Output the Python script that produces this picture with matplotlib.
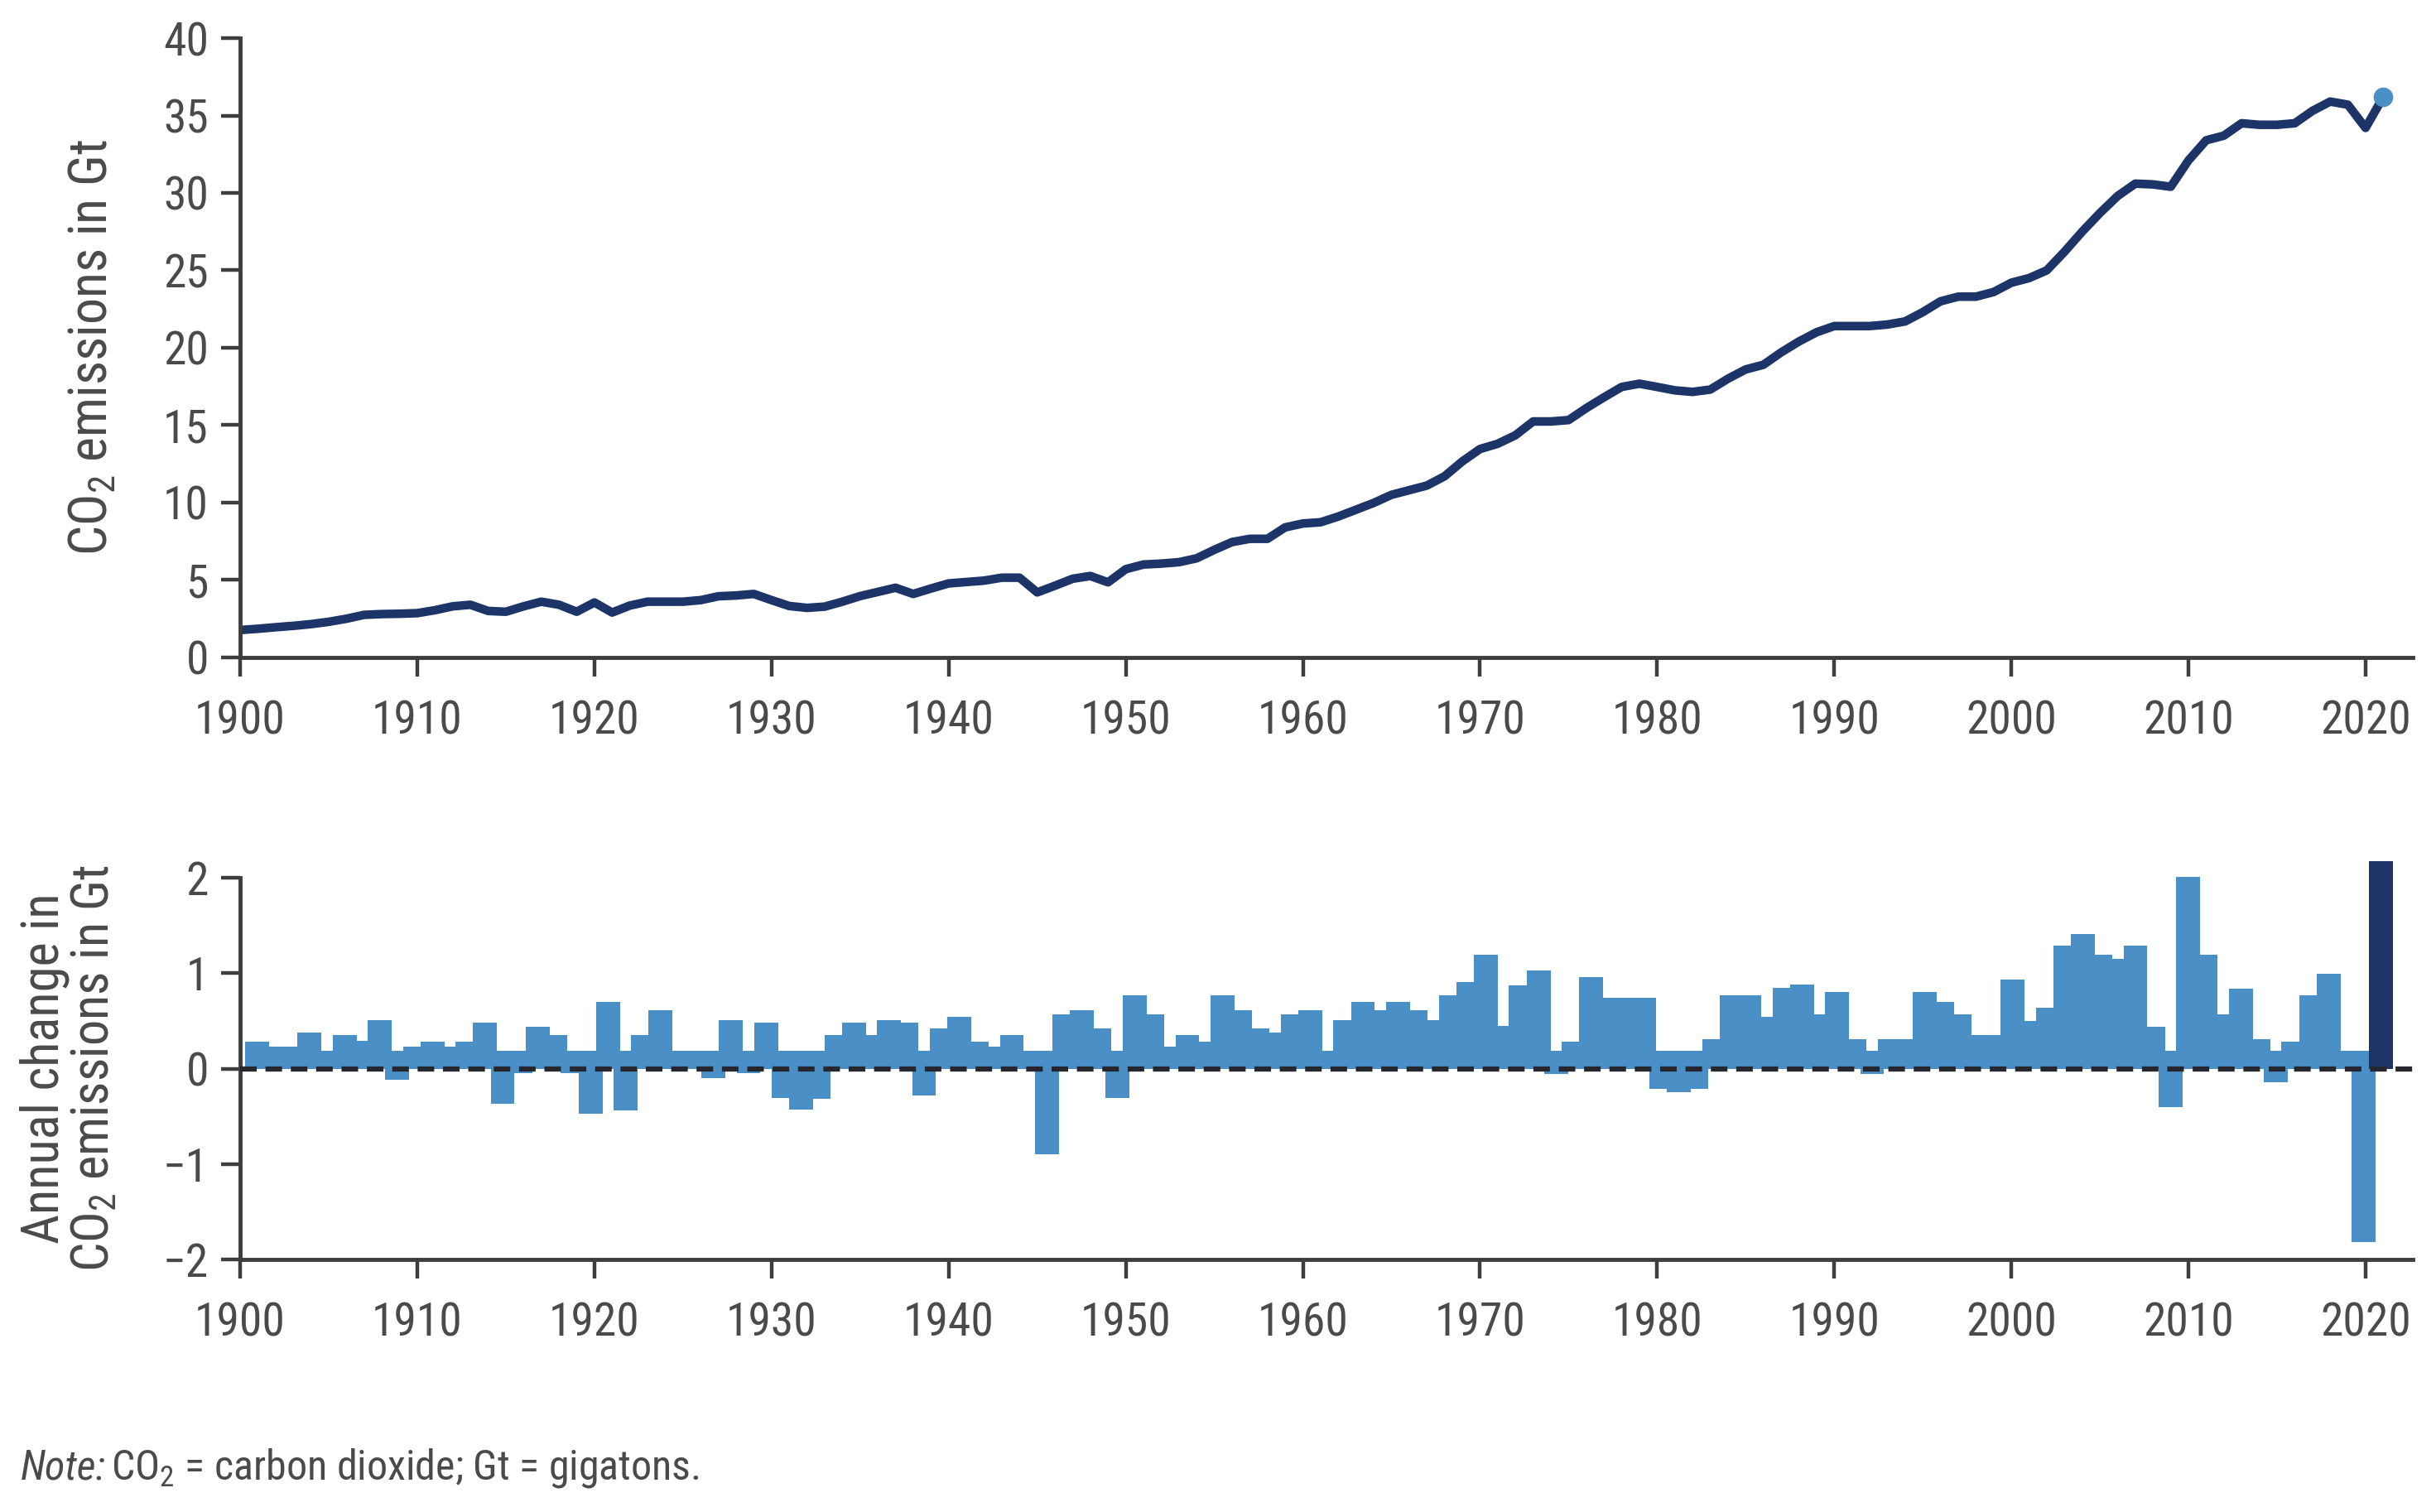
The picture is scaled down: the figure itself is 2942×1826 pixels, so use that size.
import numpy as np
import matplotlib.pyplot as plt
from matplotlib import font_manager

# Step 1: values
years = np.arange(1900, 2022)

# global CO2 emissions, Gt (line, top panel)
emissions = [
    1.77, 1.85, 1.95, 2.04, 2.15, 2.30, 2.50, 2.75, 2.80, 2.82,
    2.86, 3.05, 3.30, 3.40, 3.00, 2.95, 3.30, 3.60, 3.40, 2.95,
    3.55, 2.90, 3.35, 3.60, 3.60, 3.60, 3.70, 3.95, 4.00, 4.10,
    3.70, 3.32, 3.20, 3.28, 3.60, 3.96, 4.23, 4.50, 4.10, 4.45,
    4.78, 4.87, 4.96, 5.15, 5.15, 4.20, 4.63, 5.08, 5.26, 4.85,
    5.70, 6.00, 6.06, 6.15, 6.40, 6.95, 7.45, 7.66, 7.66, 8.40,
    8.65, 8.73, 9.10, 9.54, 9.98, 10.50, 10.80, 11.10, 11.70, 12.66,
    13.46, 13.80, 14.35, 15.24, 15.24, 15.33, 16.10, 16.80, 17.47, 17.68,
    17.47, 17.25, 17.15, 17.30, 18.00, 18.60, 18.90, 19.70, 20.40, 21.00,
    21.40, 21.40, 21.40, 21.50, 21.70, 22.30, 23.00, 23.30, 23.30, 23.60,
    24.20, 24.50, 25.00, 26.20, 27.50, 28.70, 29.80, 30.60, 30.55, 30.40,
    32.10, 33.40, 33.70, 34.50, 34.40, 34.40, 34.50, 35.30, 35.90, 35.70,
    34.20, 36.20,
]

# annual change in CO2 emissions, Gt (bars, bottom panel)
changes = [
    0.28, 0.23, 0.23, 0.38, 0.15, 0.35, 0.29, 0.51, -0.12, 0.23,
    0.28, 0.23, 0.28, 0.48, -0.37, -0.05, 0.44, 0.35, -0.05, -0.47,
    0.70, -0.44, 0.35, 0.61, 0.15, 0.15, -0.10, 0.51, -0.05, 0.48,
    -0.31, -0.43, -0.32, 0.35, 0.48, 0.35, 0.51, 0.48, -0.28, 0.42,
    0.54, 0.28, 0.23, 0.35, 0.15, -0.90, 0.57, 0.61, 0.42, -0.31,
    0.77, 0.57, 0.23, 0.35, 0.28, 0.77, 0.61, 0.42, 0.38, 0.57,
    0.61, 0.15, 0.51, 0.70, 0.61, 0.70, 0.61, 0.51, 0.77, 0.91,
    1.19, 0.45, 0.87, 1.03, -0.06, 0.28, 0.96, 0.74, 0.74, 0.74,
    -0.21, -0.25, -0.21, 0.31, 0.77, 0.77, 0.54, 0.85, 0.88, 0.57,
    0.80, 0.31, -0.06, 0.31, 0.31, 0.80, 0.70, 0.57, 0.35, 0.35,
    0.93, 0.50, 0.64, 1.29, 1.41, 1.19, 1.15, 1.29, 0.44, -0.40,
    2.01, 1.19, 0.57, 0.84, 0.31, -0.14, 0.28, 0.77, 0.99, 0.15,
    -1.82, 2.17,
]

x_ticks = list(range(1900, 2021, 10))

# Step 2: styling (the source uses a condensed sans)
available = {f.name for f in font_manager.fontManager.ttflist}
preferred = ['Roboto Condensed', 'Fira Sans Condensed', 'Archivo Narrow',
             'Sofia Sans Condensed', 'Liberation Sans Narrow']
cond_font = next((f for f in preferred if f in available), 'DejaVu Sans')
plt.rcParams['font.family'] = [cond_font, 'DejaVu Sans']
plt.rcParams['mathtext.default'] = 'regular'

navy = '#1c3468'
light_blue = '#4a8fc6'
axis_grey = '#3d3d3d'
text_grey = '#4a4a4a'
band = 0.19  # the bars in the source never drop below this light strip above zero


def style_axes(ax):
    for side in ['top', 'right']:
        ax.spines[side].set_visible(False)
    for side in ['left', 'bottom']:
        ax.spines[side].set_linewidth(3.5)
        ax.spines[side].set_color(axis_grey)
    ax.tick_params(axis='both', direction='out', length=16.5, width=3.2,
                   color=axis_grey, labelcolor=text_grey, labelsize=40)
    ax.tick_params(axis='x', pad=20)
    ax.tick_params(axis='y', pad=11)
    ax.set_xlim(1900, 2022.67)
    ax.set_xticks(x_ticks)


fig = plt.figure(figsize=(29.42, 18.26), dpi=100)

# Step 3: top panel, emissions line
ax1 = fig.add_axes([0.0986, 0.5652, 0.8919, 0.4096])
ax1.plot(years, emissions, color=navy, lw=7.5,
         solid_joinstyle='round', solid_capstyle='round', zorder=2)
ax1.plot(years[-1], emissions[-1], 'o', color=light_blue, ms=16, zorder=3)
style_axes(ax1)
ax1.set_ylim(0, 40)
ax1.set_yticks(range(0, 41, 5))

# Step 4: bottom panel, annual change bars
ax2 = fig.add_axes([0.0986, 0.1670, 0.8919, 0.2525])
style_axes(ax2)
ax2.set_ylim(-2, 2)
ax2.set_yticks([-2, -1, 0, 1, 2])

# the bars sit on their own slightly narrower category scale, as in the source
bx = ax2.twiny()
bx.set_xlim(1899.05, 2022.8)
bx.set_xticks([])
for s in bx.spines.values():
    s.set_visible(False)

chg = np.array(changes)
low = np.minimum(chg, 0)
high = np.maximum(chg, band)
bar_colors = [light_blue] * (len(chg) - 1) + [navy]
bx.bar(years, high - low, bottom=low, width=1.36, color=bar_colors,
       linewidth=0, clip_on=False, zorder=2)
bx.axhline(0, color='#26262f', lw=4.5, ls=(0, (3.2, 1.7)), zorder=5)

# Step 5: labels and note
fig.text(112 / 2942, 1 - 420 / 1826, 'CO$_2$ emissions in Gt', rotation=90,
         ha='center', va='center', fontsize=46, color=text_grey)
fig.text(84 / 2942, 1 - 1290 / 1826, 'Annual change in\nCO$_2$ emissions in Gt',
         rotation=90, ha='center', va='center', fontsize=45, color=text_grey,
         linespacing=1.0)

note_y = 1 - 1773 / 1826
t1 = fig.text(25 / 2942, note_y, 'Note:', style='italic', fontsize=36,
              color=text_grey, ha='left', va='center')
fig.canvas.draw()
bb = t1.get_window_extent().transformed(fig.transFigure.inverted())
fig.text(bb.x1 + 0.002, note_y, 'CO$_2$ = carbon dioxide; Gt = gigatons.',
         fontsize=36, color=text_grey, ha='left', va='center')

plt.savefig('out.png', dpi=100)
